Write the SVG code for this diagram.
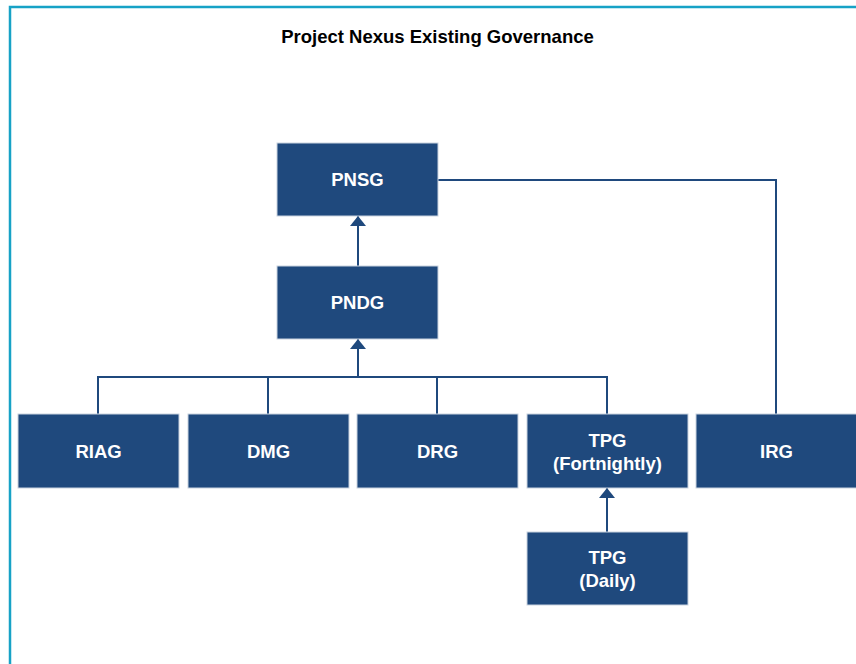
<svg xmlns="http://www.w3.org/2000/svg" width="856" height="664" viewBox="0 0 856 664">
<style>
.box{fill:#1f497d;stroke:#c9d3e0;stroke-width:1}
.lbl{fill:#ffffff;font-family:"Liberation Sans",Arial,sans-serif;font-weight:bold;font-size:18.5px;text-anchor:middle}
.title{fill:#000000;font-family:"Liberation Sans",Arial,sans-serif;font-weight:bold;font-size:18.5px;text-anchor:middle}
.con{fill:none;stroke:#1f497d;stroke-width:2}
</style>
<defs>
<marker id="arr" viewBox="0 0 10 16" refX="10" refY="8" markerWidth="10" markerHeight="16" markerUnits="userSpaceOnUse" orient="auto">
<path d="M0,0 L10,8 L0,16 Z" fill="#1f497d"/>
</marker>
</defs>
<rect x="0" y="0" width="856" height="664" fill="#ffffff"/>
<path d="M10,664 L10,7 L856,7" fill="none" stroke="#17a2c6" stroke-width="2.5"/>
<text class="title" x="437.5" y="43">Project Nexus Existing Governance</text>
<g id="connectors">
<path class="con" d="M358,266 L358,216" marker-end="url(#arr)"/>
<path class="con" d="M98,414 L98,377 L607,377 L607,414"/>
<path class="con" d="M268,414 L268,377"/>
<path class="con" d="M437,414 L437,377"/>
<path class="con" d="M358,377 L358,339" marker-end="url(#arr)"/>
<path class="con" d="M438,180 L776,180 L776,414"/>
<path class="con" d="M607,532 L607,488" marker-end="url(#arr)"/>
</g>
<g id="PNSG"><rect class="box" x="277" y="143" width="161" height="73"/><text class="lbl" x="357.5" y="186">PNSG</text></g>
<g id="PNDG"><rect class="box" x="277" y="266" width="161" height="73"/><text class="lbl" x="357.5" y="309">PNDG</text></g>
<g id="RIAG"><rect class="box" x="18" y="414" width="161" height="74"/><text class="lbl" x="98.5" y="457.5">RIAG</text></g>
<g id="DMG"><rect class="box" x="188" y="414" width="161" height="74"/><text class="lbl" x="268.5" y="457.5">DMG</text></g>
<g id="DRG"><rect class="box" x="357" y="414" width="161" height="74"/><text class="lbl" x="437.5" y="457.5">DRG</text></g>
<g id="TPGF"><rect class="box" x="527" y="414" width="161" height="74"/><text class="lbl" x="607.5" y="447">TPG</text><text class="lbl" x="607.5" y="470">(Fortnightly)</text></g>
<g id="IRG"><rect class="box" x="696" y="414" width="161" height="74"/><text class="lbl" x="776.5" y="457.5">IRG</text></g>
<g id="TPGD"><rect class="box" x="527" y="532" width="161" height="73"/><text class="lbl" x="607.5" y="564">TPG</text><text class="lbl" x="607.5" y="587">(Daily)</text></g>
</svg>
